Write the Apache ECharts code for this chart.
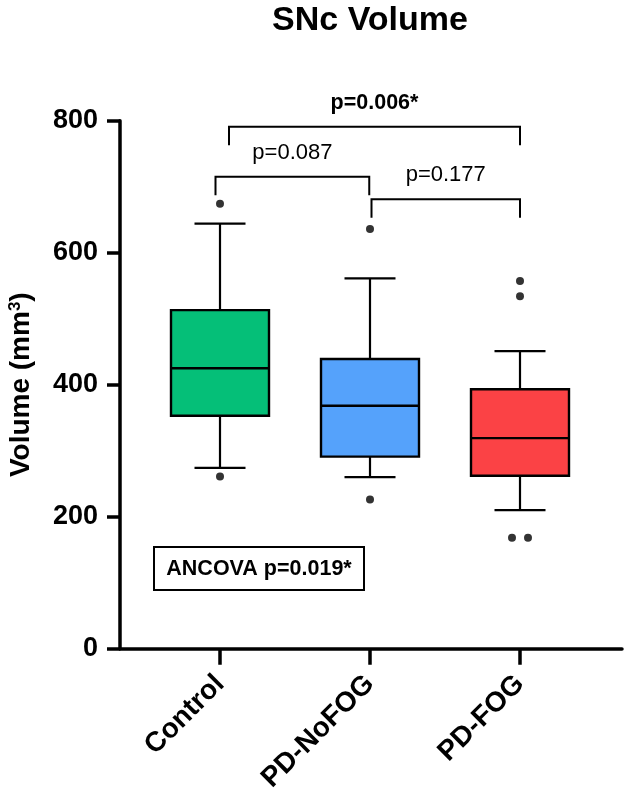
<!DOCTYPE html>
<html>
<head>
<meta charset="utf-8">
<script src="https://cdn.jsdelivr.net/npm/echarts@6/dist/echarts.min.js"></script>
<style>
  html, body { margin: 0; padding: 0; background: #fff; }
  #main { width: 624px; height: 797px; }
</style>
</head>
<body>
<div id="main"></div>
<script>
// groups on the x axis
const categories = ['Control', 'PD-NoFOG', 'PD-FOG'];

// box plot numbers (mm3)
const whiskerLow  = [274, 260, 210];
const q1          = [353, 291, 262];
const median      = [425, 368, 319];
const q3          = [513, 439, 393];
const whiskerHigh = [644, 561, 451];
const outliers    = [[674, 261], [636, 226], [557, 534, 168, 168]];

// y ticks
const yTicks = [0, 200, 400, 600, 800];

// comparison brackets: from group, to group, height (mm3), label
const bracketFrom  = [0.06, -0.03, 1.01];
const bracketTo    = [2.0, 0.995, 2.0];
const bracketLevel = [791, 715, 681];
const bracketText  = ['p=0.006*', 'p=0.087', 'p=0.177'];
const bracketBold  = [true, false, false];

const boxColors = ['#05BF78', '#55A2FB', '#FB4245'];
const FONT = 'Liberation Sans, Arial, Helvetica, sans-serif';

const boxData = categories.map((c, i) =>
  [i, whiskerLow[i], q1[i], median[i], q3[i], whiskerHigh[i]]);

// outlier points, duplicates spread sideways a little like Prism does
const outlierData = [];
outliers.forEach((vals, i) => {
  vals.forEach((v, k) => {
    const same = vals.filter(x => x === v).length;
    const item = { value: [i, v] };
    if (same > 1) {
      const idx = vals.slice(0, k).filter(x => x === v).length;
      item.symbolOffset = [idx === 0 ? -8 : 8, 0];
    }
    outlierData.push(item);
  });
});

const bracketData = bracketText.map((t, i) =>
  [bracketFrom[i], bracketTo[i], bracketLevel[i]]);

const chart = echarts.init(document.getElementById('main'));

const option = {
  animation: false,
  textStyle: { fontFamily: FONT },
  graphic: [
    {
      type: 'text', x: 370, y: 21,
      style: { text: 'SNc Volume', font: 'bold 34px ' + FONT, fill: '#000', textAlign: 'center', textVerticalAlign: 'middle' }
    },
    {
      type: 'rect', shape: { x: 154, y: 547, width: 210, height: 43 },
      style: { fill: '#fff', stroke: '#000', lineWidth: 2 }, z: 10
    },
    {
      type: 'text', x: 259, y: 569, z: 11,
      style: { text: 'ANCOVA p=0.019*', font: 'bold 21.5px ' + FONT, fill: '#000', textAlign: 'center', textVerticalAlign: 'middle' }
    }
  ],
  grid: { left: 120, right: 2, top: 120.7, bottom: 148.3, outerBoundsMode: 'none' },
  xAxis: {
    type: 'value',
    min: -2 / 3,
    max: 2.68,
    splitLine: { show: false },
    axisLine: { show: true, onZero: false, lineStyle: { color: '#000', width: 3.5 } },
    axisTick: { show: true, customValues: [0, 1, 2], length: 16, lineStyle: { color: '#000', width: 3.5 } },
    axisLabel: {
      customValues: [0, 1, 2],
      formatter: v => categories[Math.round(v)],
      rotate: 45,
      margin: 31,
      color: '#000',
      fontWeight: 'bold',
      fontSize: 28,
      fontFamily: FONT
    }
  },
  yAxis: {
    type: 'value',
    min: 0,
    max: 800,
    interval: 200,
    splitLine: { show: false },
    axisLine: { show: true, onZero: false, lineStyle: { color: '#000', width: 3.5 } },
    axisTick: { show: true, length: 13, lineStyle: { color: '#000', width: 3.5 } },
    axisLabel: { color: '#000', fontWeight: 'bold', fontSize: 27, margin: 22, fontFamily: FONT },
    name: 'Volume (mm{sup|3})',
    nameLocation: 'middle',
    nameGap: 85,
    nameTextStyle: {
      color: '#000', fontWeight: 'bold', fontSize: 28, fontFamily: FONT,
      rich: {
        sup: { fontSize: 17, fontWeight: 'bold', color: '#000', verticalAlign: 'top', fontFamily: FONT }
      }
    }
  },
  series: [
    {
      type: 'custom',
      name: 'box',
      data: boxData,
      encode: { x: 0, y: [1, 2, 3, 4, 5] },
      renderItem: function (params, api) {
        const x = api.value(0);
        const lo = api.coord([x, api.value(1)]);
        const b1 = api.coord([x, api.value(2)]);
        const md = api.coord([x, api.value(3)]);
        const b3 = api.coord([x, api.value(4)]);
        const hi = api.coord([x, api.value(5)]);
        const hw = 49, cw = 25.5, cx = lo[0];
        const ln = { stroke: '#000', lineWidth: 2.2 };
        return {
          type: 'group',
          children: [
            { type: 'line', shape: { x1: cx, y1: hi[1], x2: cx, y2: b3[1] }, style: ln },
            { type: 'line', shape: { x1: cx, y1: lo[1], x2: cx, y2: b1[1] }, style: ln },
            { type: 'line', shape: { x1: cx - cw, y1: hi[1], x2: cx + cw, y2: hi[1] }, style: ln },
            { type: 'line', shape: { x1: cx - cw, y1: lo[1], x2: cx + cw, y2: lo[1] }, style: ln },
            {
              type: 'rect',
              shape: { x: cx - hw, y: b3[1], width: hw * 2, height: b1[1] - b3[1] },
              style: { fill: boxColors[params.dataIndex], stroke: '#000', lineWidth: 2.4 }
            },
            { type: 'line', shape: { x1: cx - hw, y1: md[1], x2: cx + hw, y2: md[1] }, style: { stroke: '#000', lineWidth: 2.4 } }
          ]
        };
      }
    },
    {
      type: 'scatter',
      name: 'outliers',
      data: outlierData,
      symbol: 'circle',
      symbolSize: 8,
      itemStyle: { color: '#000' }
    },
    {
      type: 'custom',
      name: 'brackets',
      data: bracketData,
      encode: { x: [0, 1], y: 2 },
      clip: false,
      renderItem: function (params, api) {
        const a = api.coord([api.value(0), api.value(2)]);
        const b = api.coord([api.value(1), api.value(2)]);
        const drop = 18.5;
        const i = params.dataIndex;
        const st = { stroke: '#000', lineWidth: 2, fill: null };
        return {
          type: 'group',
          children: [
            {
              type: 'polyline',
              shape: { points: [[a[0], a[1] + drop], [a[0], a[1]], [b[0], b[1]], [b[0], b[1] + drop]] },
              style: st
            },
            {
              type: 'text',
              x: (a[0] + b[0]) / 2,
              y: a[1] - 24,
              style: {
                text: bracketText[i],
                font: (bracketBold[i] ? 'bold 21.5px ' : '22px ') + FONT,
                fill: '#000',
                textAlign: 'center',
                textVerticalAlign: 'middle'
              }
            }
          ]
        };
      }
    }
  ]
};

chart.setOption(option);
</script>
</body>
</html>
